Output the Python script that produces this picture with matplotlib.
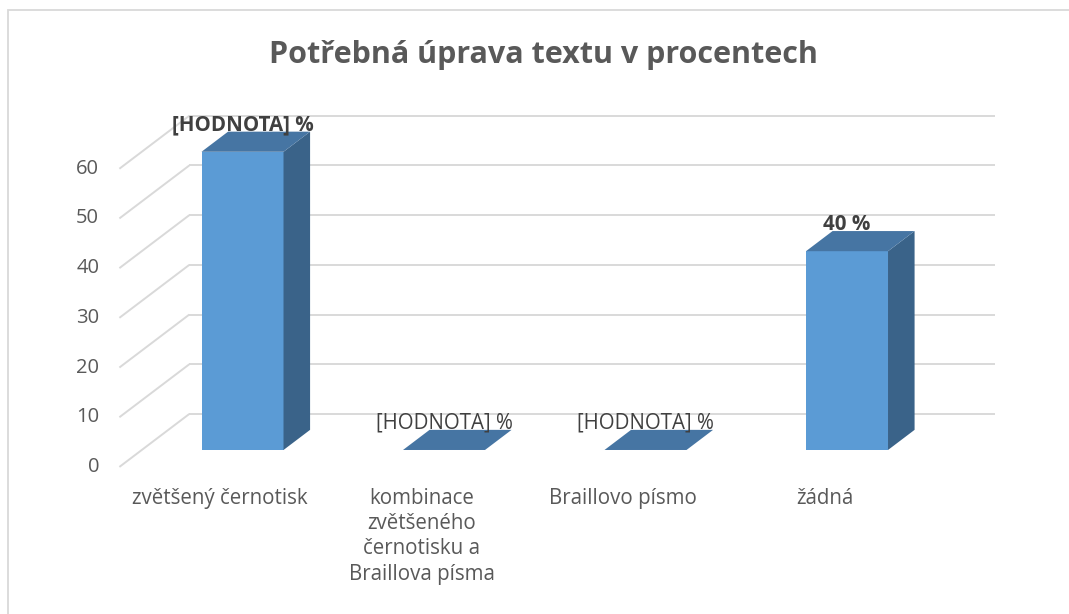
import matplotlib
matplotlib.use("Agg")
import matplotlib.pyplot as plt
from matplotlib.patches import Polygon, Rectangle

plt.rcParams['font.family'] = ['Open Sans', 'DejaVu Sans']

# data
categories = ["zvětšený černotisk",
              "kombinace\nzvětšeného\nčernotisku a\nBraillova písma",
              "Braillovo písmo",
              "žádná"]
values = [60, 0, 0, 40]
value_labels = ["[HODNOTA] %", "[HODNOTA] %", "[HODNOTA] %", "40 %"]
label_bold = [True, False, False, True]
y_ticks = [0, 10, 20, 30, 40, 50, 60]
title = "Potřebná úprava textu v procentech"

# fake 3d geometry (data units: x = category, y = value)
DX, DY = 0.347, 10.66          # shift for full depth (front -> back wall)
BAR_D0, BAR_D1 = 0.32, 0.70    # depth of bar front / back faces
BAR_W = 0.407

FRONT = '#5B9BD5'
SIDE = '#3A6389'
TOP = '#4675A3'
GRID = '#D9D9D9'
TXT = '#595959'


def shift(x, y, d):
    # move a point given on the bar front plane to depth d
    return x + (d - BAR_D0) * DX, y + (d - BAR_D0) * DY


fig = plt.figure(figsize=(10.69, 6.14), dpi=100)
ax = fig.add_axes([0, 0, 1, 1])
ax.set_xlim(-1.2035, 4.1017)
ax.set_ylim(-33.0, 90.54)
ax.axis('off')

# outer chart border
fig.add_artist(Rectangle((0.0075, -0.1), 1.2, 1.0835, transform=fig.transFigure,
                         fill=False, edgecolor=GRID, linewidth=1.3))

n = len(categories)
left, right = -0.5, n - 0.5

# back wall gridlines and side wall diagonals
for v in y_ticks:
    x0, y0 = shift(left, v, 1.0)
    x1, y1 = shift(right, v, 1.0)
    ax.plot([x0, x1], [y0, y1], color=GRID, lw=1.4, zorder=1, solid_capstyle='butt')
    xf, yf = shift(left, v, 0.0)
    ax.plot([xf, x0], [yf, y0], color=GRID, lw=1.4, zorder=1, solid_capstyle='butt')
    ax.text(xf - 0.1, yf, str(v), ha='right', va='center', fontsize=14.5, color=TXT)

# bars
for i, v in enumerate(values):
    xl, xr = i - BAR_W / 2, i + BAR_W / 2
    bx, by = (BAR_D1 - BAR_D0) * DX, (BAR_D1 - BAR_D0) * DY
    if v > 0:
        ax.add_patch(Rectangle((xl, 0), BAR_W, v, facecolor=FRONT, edgecolor='none', zorder=3))
        ax.add_patch(Polygon([(xr, 0), (xr + bx, by), (xr + bx, v + by), (xr, v)],
                             closed=True, facecolor=SIDE, edgecolor='none', zorder=3))
    ax.add_patch(Polygon([(xl, v), (xr, v), (xr + bx, v + by), (xl + bx, v + by)],
                         closed=True, facecolor=TOP, edgecolor='none', zorder=3))

    ax.text(i, v + 5.4, value_labels[i], ha='center', va='center', fontsize=14.8,
            fontweight='bold' if label_bold[i] else 'normal', color='#404040', zorder=5)

    cx, cy = shift(i, 0, 0.0)
    ax.text(cx, -7.6, categories[i], ha='center', va='top', fontsize=14.8,
            color=TXT, linespacing=1.27)

fig.text(0.508, 0.91, title, ha='center', va='center', fontsize=22,
         fontweight='bold', color=TXT)

fig.savefig('out.png', dpi=100)
